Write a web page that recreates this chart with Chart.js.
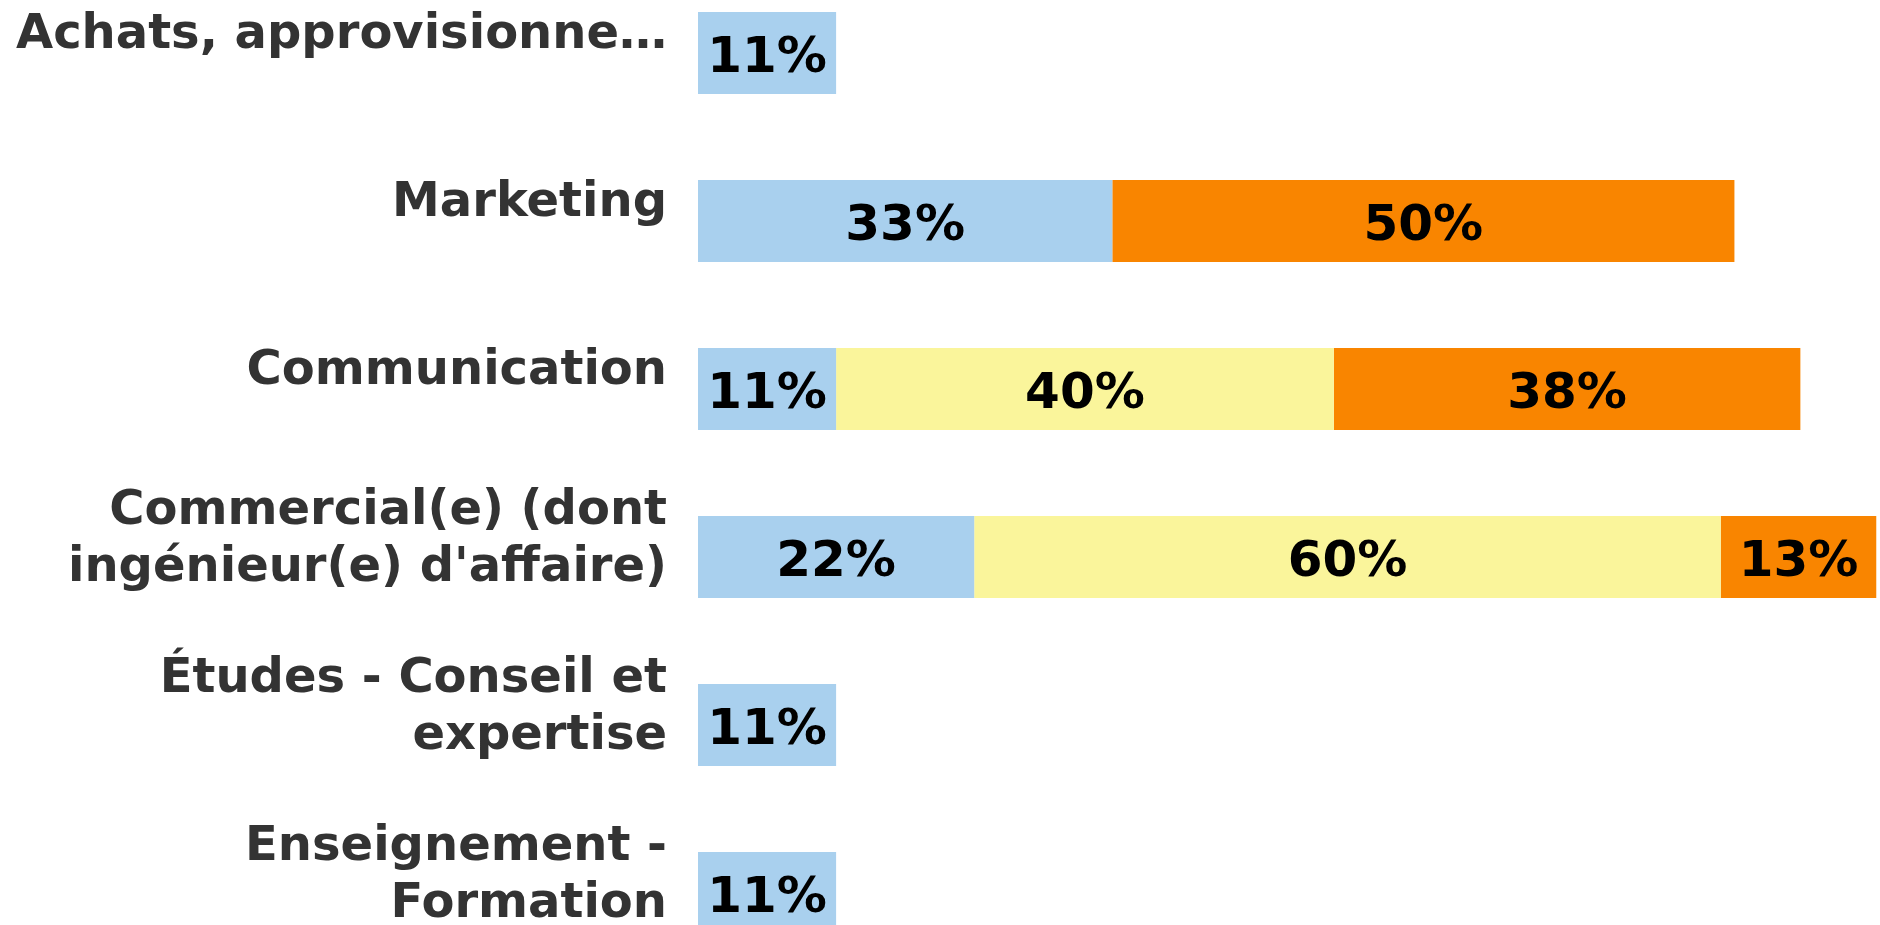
<!DOCTYPE html>
<html>
<head>
<meta charset="utf-8">
<script src="https://cdn.jsdelivr.net/npm/chart.js@4.4.1/dist/chart.umd.min.js"></script>
<style>
  html, body { margin: 0; padding: 0; background: #ffffff; overflow: hidden; width: 1880px; height: 925px; }
  #wrap { position: absolute; left: 0; top: -31px; width: 1880px; height: 1008px; }
</style>
</head>
<body>
<div id="wrap"><canvas id="c" width="1880" height="1008"></canvas></div>
<script>
const categories = [
  "Achats, approvisionne…",
  "Marketing",
  "Communication",
  ["Commercial(e) (dont", "ingénieur(e) d'affaire)"],
  ["Études - Conseil et", "expertise"],
  ["Enseignement -", "Formation"]
];
const seriesNames = ["Série 1", "Série 2", "Série 3"];
const seriesBlue = [11.1, 33.3, 11.1, 22.2, 11.1, 11.1];
const seriesYellow = [null, null, 40, 60, null, null];
const seriesOrange = [null, 50, 37.5, 12.5, null, null];
const seriesColors = ["#a9d0ee", "#faf59b", "#f98500"];
const xMax = 95;

const FONT = "'DejaVu Sans', Verdana, sans-serif";

const barLabels = {
  id: 'barLabels',
  afterDatasetsDraw(chart) {
    const ctx = chart.ctx;
    ctx.save();
    ctx.font = "bold 50px " + FONT;
    ctx.fillStyle = "#000000";
    ctx.textAlign = "center";
    ctx.textBaseline = "middle";
    chart.data.datasets.forEach((ds, i) => {
      const meta = chart.getDatasetMeta(i);
      meta.data.forEach((el, j) => {
        const v = ds.data[j];
        if (v === null || v === undefined) return;
        const cx = (el.x + el.base) / 2;
        ctx.fillText(Math.round(v) + "%", cx, el.y + 6);
      });
    });
    ctx.restore();
  }
};

new Chart(document.getElementById('c'), {
  type: 'bar',
  data: {
    labels: categories,
    datasets: [
      { label: seriesNames[0], data: seriesBlue, backgroundColor: seriesColors[0] },
      { label: seriesNames[1], data: seriesYellow, backgroundColor: seriesColors[1] },
      { label: seriesNames[2], data: seriesOrange, backgroundColor: seriesColors[2] }
    ]
  },
  options: {
    indexAxis: 'y',
    responsive: false,
    animation: false,
    devicePixelRatio: 1,
    layout: { padding: 0 },
    datasets: { bar: { categoryPercentage: 1.0, barPercentage: 0.488, borderWidth: 0 } },
    plugins: {
      legend: { display: false },
      tooltip: { enabled: false },
      title: { display: false }
    },
    scales: {
      x: {
        stacked: true,
        min: 0,
        max: xMax,
        display: false,
        grid: { display: false }
      },
      y: {
        stacked: true,
        border: { display: false },
        grid: { display: false, drawTicks: false },
        afterFit(scale) {
          scale.width = 698;
          scale.paddingTop = 0;
          scale.paddingBottom = 0;
        },
        ticks: {
          padding: 31,
          labelOffset: -17,
          color: "#333333",
          font: { family: FONT, size: 48, weight: 'bold', lineHeight: 1.17 }
        }
      }
    }
  },
  plugins: [barLabels]
});
</script>
</body>
</html>
